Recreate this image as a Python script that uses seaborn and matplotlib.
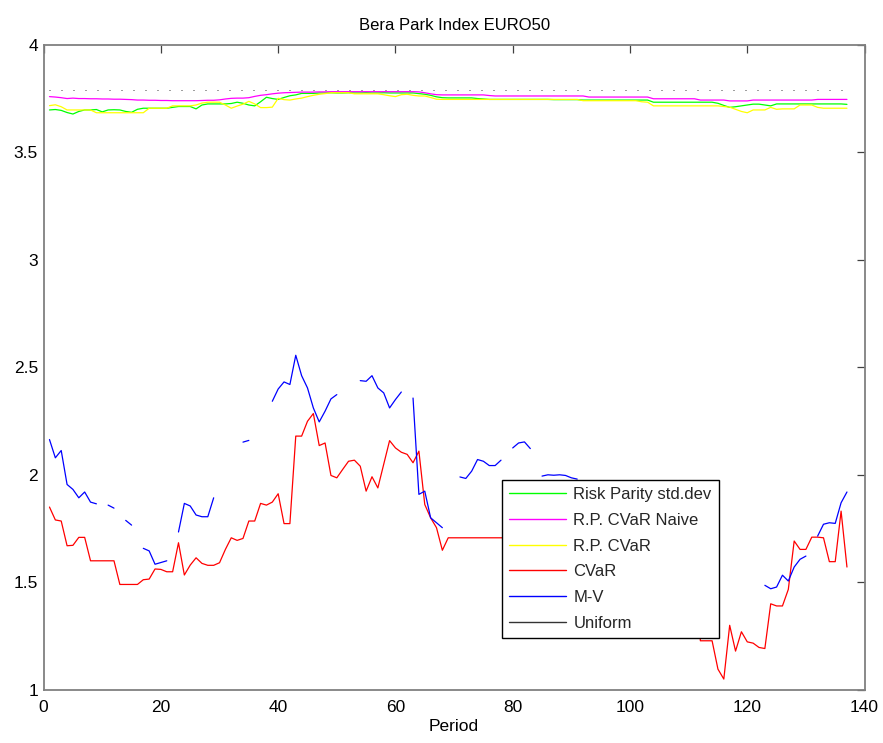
import numpy as np
import pandas as pd
import matplotlib
matplotlib.use("Agg")
import matplotlib.pyplot as plt
from matplotlib.lines import Line2D
from matplotlib.ticker import FuncFormatter
import seaborn as sns

nan = np.nan

periods = list(range(1, 138))

risk_parity_std = [
    3.697, 3.699, 3.695, 3.685, 3.678, 3.690, 3.697, 3.697, 3.699, 3.688,
    3.697, 3.698, 3.697, 3.690, 3.686, 3.700, 3.705, 3.705, 3.705, 3.705,
    3.705, 3.709, 3.713, 3.713, 3.713, 3.702, 3.720, 3.725, 3.725, 3.725,
    3.725, 3.727, 3.733, 3.728, 3.720, 3.716, 3.735, 3.756, 3.750, 3.746,
    3.755, 3.763, 3.767, 3.774, 3.774, 3.774, 3.776, 3.776, 3.777, 3.776,
    3.776, 3.777, 3.776, 3.776, 3.777, 3.776, 3.776, 3.777, 3.776, 3.776,
    3.776, 3.776, 3.776, 3.773, 3.770, 3.765, 3.758, 3.754, 3.753, 3.753,
    3.753, 3.753, 3.753, 3.750, 3.748, 3.746, 3.746, 3.746, 3.746, 3.746,
    3.746, 3.746, 3.746, 3.746, 3.746, 3.746, 3.745, 3.745, 3.745, 3.745,
    3.745, 3.743, 3.743, 3.743, 3.743, 3.743, 3.743, 3.743, 3.743, 3.743,
    3.743, 3.743, 3.743, 3.733, 3.733, 3.733, 3.733, 3.733, 3.733, 3.733,
    3.733, 3.733, 3.733, 3.733, 3.728, 3.718, 3.709, 3.712, 3.716, 3.720,
    3.724, 3.724, 3.720, 3.716, 3.725, 3.725, 3.725, 3.725, 3.725, 3.725,
    3.725, 3.725, 3.725, 3.725, 3.725, 3.725, 3.723]

rp_cvar_naive = [
    3.759, 3.757, 3.754, 3.750, 3.752, 3.750, 3.750, 3.749, 3.749, 3.748,
    3.748, 3.747, 3.747, 3.746, 3.745, 3.743, 3.743, 3.742, 3.742, 3.741,
    3.741, 3.740, 3.740, 3.740, 3.740, 3.740, 3.741, 3.742, 3.742, 3.744,
    3.748, 3.751, 3.752, 3.752, 3.754, 3.760, 3.765, 3.768, 3.772, 3.775,
    3.777, 3.778, 3.779, 3.780, 3.780, 3.780, 3.781, 3.781, 3.782, 3.782,
    3.782, 3.782, 3.782, 3.782, 3.782, 3.782, 3.782, 3.782, 3.782, 3.782,
    3.782, 3.782, 3.782, 3.781, 3.777, 3.772, 3.768, 3.767, 3.767, 3.767,
    3.767, 3.767, 3.767, 3.767, 3.767, 3.764, 3.762, 3.762, 3.762, 3.762,
    3.762, 3.762, 3.762, 3.762, 3.762, 3.762, 3.762, 3.762, 3.762, 3.762,
    3.762, 3.762, 3.757, 3.757, 3.757, 3.757, 3.757, 3.757, 3.757, 3.757,
    3.757, 3.757, 3.757, 3.749, 3.749, 3.749, 3.749, 3.749, 3.749, 3.749,
    3.749, 3.743, 3.743, 3.743, 3.743, 3.743, 3.739, 3.739, 3.739, 3.739,
    3.743, 3.743, 3.743, 3.743, 3.743, 3.743, 3.743, 3.743, 3.743, 3.743,
    3.743, 3.746, 3.746, 3.746, 3.746, 3.746, 3.746]

rp_cvar = [
    3.717, 3.721, 3.712, 3.697, 3.697, 3.697, 3.697, 3.697, 3.684, 3.684,
    3.684, 3.684, 3.684, 3.684, 3.684, 3.684, 3.684, 3.705, 3.705, 3.705,
    3.705, 3.716, 3.716, 3.716, 3.716, 3.720, 3.729, 3.733, 3.733, 3.733,
    3.720, 3.705, 3.715, 3.724, 3.737, 3.725, 3.708, 3.708, 3.710, 3.751,
    3.745, 3.743, 3.748, 3.752, 3.759, 3.765, 3.770, 3.773, 3.777, 3.777,
    3.777, 3.777, 3.772, 3.772, 3.772, 3.772, 3.772, 3.768, 3.763, 3.759,
    3.768, 3.770, 3.765, 3.762, 3.762, 3.755, 3.747, 3.746, 3.746, 3.746,
    3.746, 3.746, 3.746, 3.746, 3.746, 3.746, 3.746, 3.746, 3.746, 3.746,
    3.746, 3.746, 3.746, 3.746, 3.746, 3.746, 3.746, 3.746, 3.746, 3.746,
    3.746, 3.740, 3.740, 3.740, 3.740, 3.740, 3.740, 3.740, 3.740, 3.740,
    3.740, 3.735, 3.733, 3.716, 3.716, 3.716, 3.716, 3.716, 3.716, 3.716,
    3.716, 3.716, 3.716, 3.716, 3.716, 3.713, 3.710, 3.700, 3.690, 3.684,
    3.697, 3.697, 3.697, 3.709, 3.700, 3.702, 3.702, 3.702, 3.720, 3.720,
    3.720, 3.709, 3.705, 3.705, 3.705, 3.705, 3.705]

cvar = [
    1.850, 1.790, 1.785, 1.670, 1.672, 1.709, 1.709, 1.600, 1.600, 1.600,
    1.600, 1.600, 1.490, 1.490, 1.490, 1.490, 1.512, 1.515, 1.562, 1.560,
    1.549, 1.549, 1.684, 1.534, 1.580, 1.614, 1.588, 1.579, 1.579, 1.591,
    1.653, 1.707, 1.695, 1.704, 1.785, 1.785, 1.867, 1.859, 1.873, 1.912,
    1.773, 1.773, 2.180, 2.180, 2.249, 2.285, 2.136, 2.148, 1.997, 1.986,
    2.025, 2.063, 2.068, 2.040, 1.924, 1.991, 1.939, 2.048, 2.159, 2.125,
    2.105, 2.095, 2.056, 2.110, 1.862, 1.800, 1.754, 1.649, 1.707, 1.707,
    1.707, 1.707, 1.707, 1.707, 1.707, 1.707, 1.707, 1.707, 1.707, 1.707,
    1.707, 1.707, 1.707, 1.707, 1.707, 1.707, 1.707, 1.707, 1.707, 1.707,
    1.707, 1.707, 1.707, 1.707, 1.707, 1.707, 1.707, 1.707, 1.707, 1.707,
    1.707, 1.707, 1.707, 1.707, 1.707, 1.707, 1.707, 1.707, 1.707, 1.707,
    1.707, 1.228, 1.228, 1.228, 1.096, 1.050, 1.300, 1.180, 1.270, 1.223,
    1.217, 1.197, 1.192, 1.400, 1.390, 1.390, 1.467, 1.692, 1.653, 1.653,
    1.710, 1.710, 1.707, 1.596, 1.596, 1.831, 1.571]

mean_variance = [
    2.164, 2.079, 2.113, 1.955, 1.932, 1.893, 1.920, 1.873, 1.865, nan,
    1.859, 1.845, nan, 1.788, 1.766, nan, 1.658, 1.646, 1.584, 1.592,
    1.600, nan, 1.734, 1.867, 1.855, 1.813, 1.805, 1.805, 1.893, nan,
    nan, nan, nan, 2.152, 2.160, nan, nan, nan, 2.342, 2.399,
    2.432, 2.420, 2.556, 2.461, 2.404, 2.311, 2.246, 2.296, 2.353, 2.373,
    nan, nan, nan, 2.438, 2.435, 2.461, 2.404, 2.381, 2.311, 2.350,
    2.385, nan, 2.357, 1.909, 1.924, 1.800, 1.777, 1.754, nan, nan,
    1.990, 1.983, 2.017, 2.071, 2.063, 2.043, 2.043, 2.068, nan, 2.125,
    2.148, 2.153, 2.122, nan, 1.994, 2.000, 1.998, 2.000, 1.997, 1.986,
    1.980, nan, nan, nan, nan, nan, nan, nan, nan, nan,
    nan, nan, nan, nan, nan, nan, nan, nan, nan, nan,
    nan, nan, nan, nan, nan, nan, nan, nan, nan, nan,
    nan, nan, 1.486, 1.470, 1.478, 1.533, 1.506, 1.571, 1.607, 1.622,
    nan, 1.715, 1.770, 1.777, 1.774, 1.870, 1.920]

uniform = [
    3.79, 3.79, 3.79, 3.79, 3.79, 3.79, 3.79, 3.79, 3.79, 3.79,
    3.79, 3.79, 3.79, 3.79, 3.79, 3.79, 3.79, 3.79, 3.79, 3.79,
    3.79, 3.79, 3.79, 3.79, 3.79, 3.79, 3.79, 3.79, 3.79, 3.79,
    3.79, 3.79, 3.79, 3.79, 3.79, 3.79, 3.79, 3.79, 3.79, 3.79,
    3.79, 3.79, 3.79, 3.79, 3.79, 3.79, 3.79, 3.79, 3.79, 3.79,
    3.79, 3.79, 3.79, 3.79, 3.79, 3.79, 3.79, 3.79, 3.79, 3.79,
    3.79, 3.79, 3.79, 3.79, 3.79, 3.79, 3.79, 3.79, 3.79, 3.79,
    3.79, 3.79, 3.79, 3.79, 3.79, 3.79, 3.79, 3.79, 3.79, 3.79,
    3.79, 3.79, 3.79, 3.79, 3.79, 3.79, 3.79, 3.79, 3.79, 3.79,
    3.79, 3.79, 3.79, 3.79, 3.79, 3.79, 3.79, 3.79, 3.79, 3.79,
    3.79, 3.79, 3.79, 3.79, 3.79, 3.79, 3.79, 3.79, 3.79, 3.79,
    3.79, 3.79, 3.79, 3.79, 3.79, 3.79, 3.79, 3.79, 3.79, 3.79,
    3.79, 3.79, 3.79, 3.79, 3.79, 3.79, 3.79, 3.79, 3.79, 3.79,
    3.79, 3.79, 3.79, 3.79, 3.79, 3.79, 3.79]

series_names = ["Risk Parity std.dev", "R.P. CVaR Naive", "R.P. CVaR",
                "CVaR", "M-V", "Uniform"]
series_values = [risk_parity_std, rp_cvar_naive, rp_cvar, cvar,
                 mean_variance, uniform]
series_colors = ["#00ff00", "#ff00ff", "#ffff00", "#ff0000", "#0000ff", "#333333"]

x_ticks = [0, 20, 40, 60, 80, 100, 120, 140]
y_ticks = [1, 1.5, 2, 2.5, 3, 3.5, 4]

sns.set_theme(style="white")
plt.rcParams['font.family'] = ['Liberation Sans', 'DejaVu Sans']

fig = plt.figure(figsize=(8.83, 7.43), dpi=100)
ax = fig.add_axes([0.0494, 0.0716, 0.9297, 0.8681])

for name, vals, col in zip(series_names, series_values, series_colors):
    df = pd.DataFrame({"Period": periods, "value": vals})
    df["seg"] = df["value"].isna().cumsum()
    df = df.dropna()
    if name == "Uniform":
        sns.lineplot(data=df, x="Period", y="value", units="seg", estimator=None,
                     color="#404040", lw=0.72, linestyle=(0, (1, 11)),
                     ax=ax, legend=False, sort=False)
    else:
        sns.lineplot(data=df, x="Period", y="value", units="seg", estimator=None,
                     color=col, lw=0.9, ax=ax, legend=False, sort=False)

ax.set_xlim(0, 140)
ax.set_ylim(1, 4)
ax.set_xticks(x_ticks)
ax.set_yticks(y_ticks)
ax.yaxis.set_major_formatter(FuncFormatter(lambda v, p: "%g" % v))
ax.xaxis.set_major_formatter(FuncFormatter(lambda v, p: "%g" % v))
ax.tick_params(direction="in", top=True, right=True, length=6, width=0.9,
               color="#404040", labelsize=12.5, labelcolor="black")
ax.tick_params(axis="x", pad=7)
ax.tick_params(axis="y", pad=4)
for s in ax.spines.values():
    s.set_color("#808080")
    s.set_linewidth(1.3)
ax.set_xlabel("Period", fontsize=12.5, labelpad=3, color="black")
ax.set_ylabel("")
ax.set_title("Bera Park Index EURO50", fontsize=12, pad=11, color="black")
ax.grid(False)

handles = [Line2D([0], [0], color=c, lw=1.0) for c in series_colors]
leg = ax.legend(handles, series_names, loc="lower left",
                bbox_to_anchor=(0.558, 0.0803), borderaxespad=0,
                fontsize=12, handlelength=3.4, handletextpad=0.45,
                labelspacing=0.64, borderpad=0.45, fancybox=False,
                framealpha=1, edgecolor="black")
leg.get_frame().set_linewidth(1.0)

fig.savefig("out.png", dpi=100)
